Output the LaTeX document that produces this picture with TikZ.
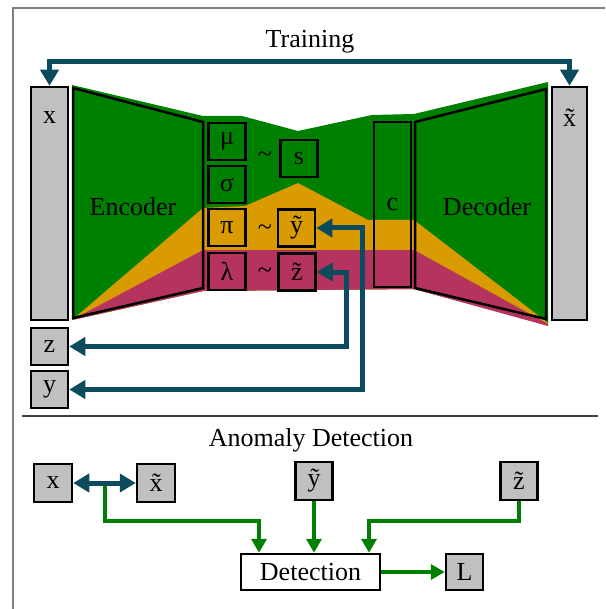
\documentclass[tikz,border=0pt]{standalone}
\usepackage{fontspec}
\setmainfont{Liberation Serif}
\usetikzlibrary{arrows.meta}
\definecolor{gr}{RGB}{0,128,0}
\definecolor{orn}{RGB}{218,155,0}
\definecolor{mag}{RGB}{180,52,95}
\definecolor{gbox}{RGB}{192,192,192}
\definecolor{blu}{RGB}{12,74,94}
\newcommand\tld[1]{#1\char"0303}
\begin{document}
\begin{tikzpicture}[x=1pt,y=-1pt,
  every node/.style={font=\fontsize{26}{30}\selectfont, inner sep=0pt},
  bx/.style={draw=black, line width=2.5pt, minimum width=37pt, minimum height=37pt},
  gbx/.style={bx, fill=gbox},
  barr/.style={draw=blu, line width=5pt, {Triangle[length=16pt,width=18pt]}-{Triangle[length=16pt,width=18pt]}},
  garr/.style={draw=gr, line width=3.5pt, -{Triangle[length=14pt,width=15pt]}},
  outl/.style={draw=black, line width=2.5pt, line join=miter}
]
\useasboundingbox (0,0) rectangle (605,609);
\draw[gray, line width=1.5pt] (13,609) -- (13,8) -- (605,8);
% bands
\fill[gr] (72,85) -- (203,116) -- (242,116) -- (298,131) -- (372,115) -- (414,114) -- (548,82) -- (548,325) -- (414,289) -- (203,291) -- (72,320) -- cycle;
\fill[orn] (72,320) -- (203,208) -- (245,206) -- (298,183) -- (368,220) -- (414,220) -- (548,323) -- (548,325) -- (414,289) -- (203,291) -- cycle;
\fill[mag] (72,320) -- (203,250) -- (414,250) -- (548,324) -- (548,326) -- (414,289) -- (203,291) -- cycle;
\draw[outl] (73,88) -- (203,122) -- (203,288) -- (73,318) -- cycle;
\draw[outl] (415,122) -- (546,89) -- (546,319) -- (415,288) -- cycle;
\node (enc) at (133,207) {Encoder};
\node (dec) at (487,207) {Decoder};
% bars
\node[gbx, minimum height=233pt] (xbar) at (49.5,203.5) {};
\node (xlab) at (49.5,118) {x};
\node[gbx, minimum width=35pt, minimum height=233pt] (xtbar) at (569.5,203.5) {};
\node (xtlab) at (569.5,118) {\tld{x}};
\node (training) at (310,42) {Training};
\coordinate (top) at (0,62);
\draw[barr] (xbar.north) -- (xbar.north |- top) -- (xtbar.north |- top) -- (xtbar.north);
% latent boxes
\node[bx] (mu) at (227,141.5) {μ};
\node[bx] (sig) at (227,184.5) {σ};
\node[bx] (pi) at (227,227.5) {π};
\node[bx] (lam) at (227,271.5) {λ};
\node[bx] (s) at (299,158.5) {s};
\node[bx] (yt) at (296.5,228) {\tld{y}};
\node[bx] (zt) at (297,272) {\tld{z}};
\node (t1) at (265,157) {\textasciitilde};
\node (t2) at (265,230) {\textasciitilde};
\node (t3) at (265,273) {\textasciitilde};
\node[bx, minimum height=165pt] (c) at (392.5,204.5) {c};
% z, y
\node[gbx] (z) at (49.5,346.5) {z};
\node[gbx] (y) at (49.5,389.5) {y};
\coordinate (v1) at (362,0);
\coordinate (v2) at (346,0);
\draw[barr] (yt.east) -- (yt.east -| v1) -- (y.east -| v1) -- (y.east);
\draw[barr] (zt.east) -- (zt.east -| v2) -- (z.east -| v2) -- (z.east);
% separator
\draw[line width=1.5pt, black!75] (22,416) -- (598,416);
% anomaly detection
\node (ad) at (311,440) {Anomaly Detection};
\node[gbx, minimum width=38pt, minimum height=38pt] (bx) at (53,483) {x};
\node[gbx, minimum width=38pt, minimum height=38pt] (bxt) at (156,483) {\tld{x}};
\node[gbx, minimum width=37pt, minimum height=38pt] (byt) at (314,481) {\tld{y}};
\node[gbx, minimum width=37pt, minimum height=38pt] (bzt) at (519,481) {\tld{z}};
\node[bx, fill=white, minimum width=139pt, minimum height=36pt] (det) at (310.5,572) {Detection};
\node[gbx, minimum height=36pt] (L) at (464.5,572) {L};
\draw[barr] (bx) -- (bxt);
\coordinate (gs) at (105,486);
\coordinate (gy) at (0,521);
\coordinate (dl) at (259,0);
\coordinate (dr) at (369,0);
\draw[garr] (gs) -- (gs |- gy) -- (dl |- gy) -- (dl |- det.north);
\draw[garr] (byt.south) -- (byt.south |- det.north);
\draw[garr] (bzt.south) -- (bzt.south |- gy) -- (dr |- gy) -- (dr |- det.north);
\draw[garr] (det.east) -- (L.west);
\end{tikzpicture}
\end{document}
